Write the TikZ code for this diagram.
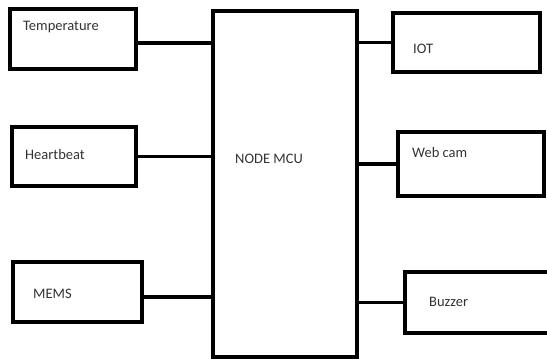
\documentclass[tikz,border=0pt]{standalone}
\usepackage{fontspec}
\setmainfont{Carlito}
\usetikzlibrary{positioning,calc}

\tikzset{
  blk/.style={rectangle,draw,line width=3.4pt,inner sep=0pt,outer sep=0pt},
  txt/.style={anchor=west,inner sep=0pt,text=black!80,font=\fontsize{14.5}{16}\selectfont},
  link/.style={line width=3.2pt}
}

\begin{document}
\begin{tikzpicture}[x=1pt,y=-1pt]
\useasboundingbox (0,0) rectangle (547,360);
\clip (0,0) rectangle (547,360);
        % sensors on the left
\node[blk,minimum width=126pt,minimum height=60pt] (temp) at (73,39) {};
\node[blk,minimum width=124pt,minimum height=59pt] (hb) at (74,156.5) {};
\node[blk,minimum width=129pt,minimum height=60pt] (mems) at (77.5,292) {};
        % controller
\node[blk,minimum width=144pt,minimum height=346pt] (mcu) at (285,184) {};
        % outputs on the right
\node[blk,minimum width=147pt,minimum height=59pt] (iot) at (466.5,42.5) {};
\node[blk,minimum width=146pt,minimum height=64pt] (cam) at (471,164) {};
\node[blk,minimum width=155pt,minimum height=61pt] (buz) at (482.5,302.5) {};

\node[txt] (tempt) at (23,27) {Temperature};
\node[txt] (hbt) at (25,155) {Heartbeat};
\node[txt] (memst) at (33,294) {MEMS};
\node[txt] (mcut) at (235,159) {NODE MCU};
\node[txt] (iott) at (413,49) {IOT};
\node[txt] (camt) at (412,153) {Web cam};
\node[txt] (buzt) at (429,302) {Buzzer};

\draw[link] ([yshift=-4pt]temp.east) -- ([yshift=-4pt]temp.east -| mcu.west);
\draw[link] (hb.east) -- (hb.east -| mcu.west);
\draw[link] ([yshift=-5pt]mems.east) -- ([yshift=-5pt]mems.east -| mcu.west);
\draw[link] (mcu.east |- iot.west) -- (iot.west);
\draw[link] (mcu.east |- cam.west) -- (cam.west);
\draw[link] (mcu.east |- buz.west) -- (buz.west);
    \end{tikzpicture}
\end{document}
